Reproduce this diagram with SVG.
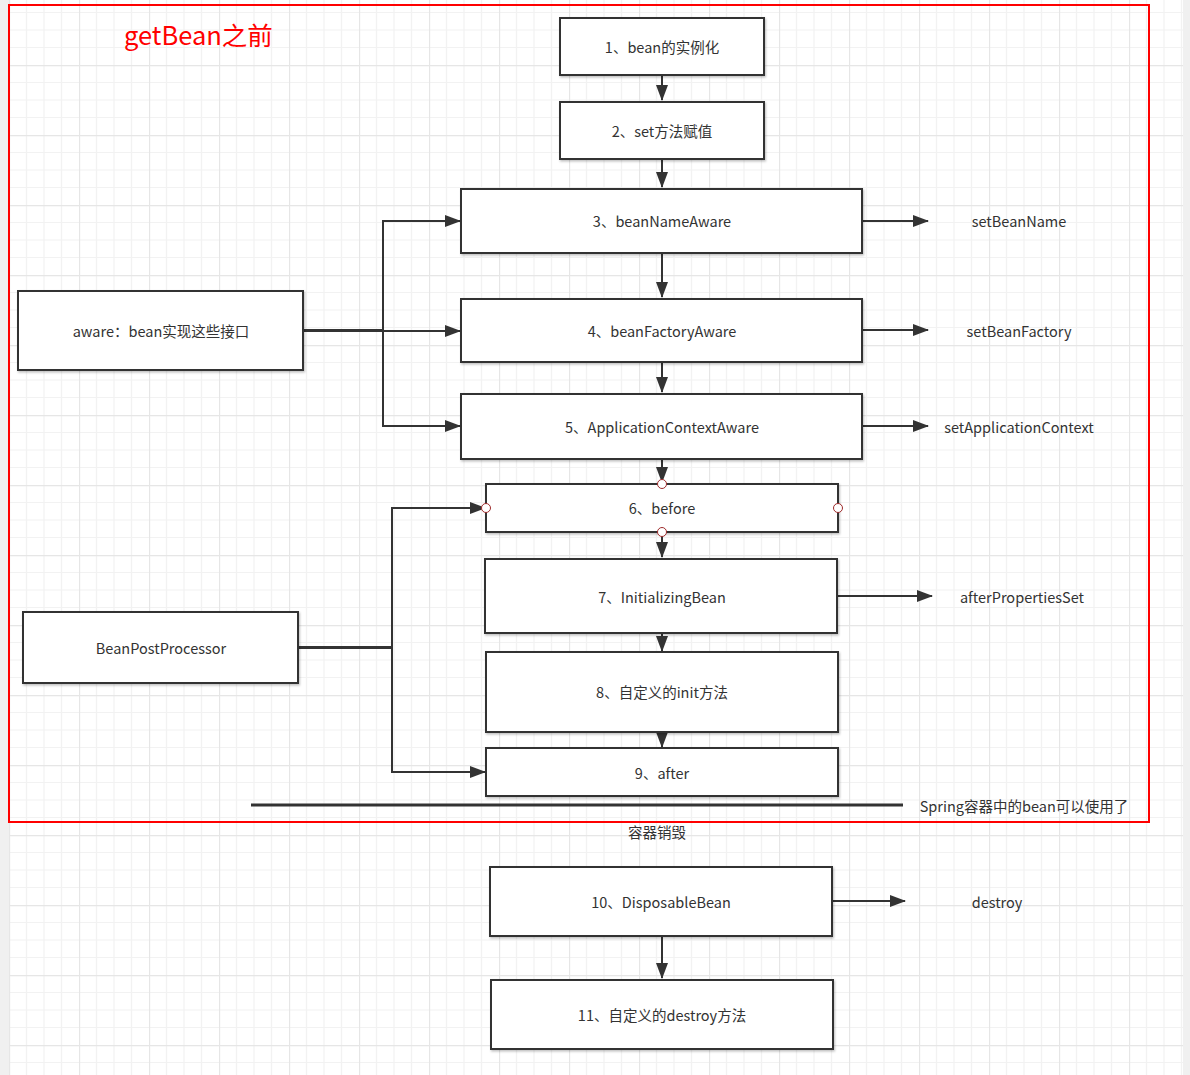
<svg xmlns="http://www.w3.org/2000/svg" width="1190" height="1075" viewBox="0 0 1190 1075">
<defs>
<pattern id="grid" x="9" y="-5" width="70" height="70" patternUnits="userSpaceOnUse">
<rect width="70" height="70" fill="#ffffff"/>
<path d="M17.5 0V70M35 0V70M52.5 0V70M0 17.5H70M0 35H70M0 52.5H70" stroke="#f2f2f2" stroke-width="1.2" fill="none"/>
<path d="M0.5 0V70M0 0.5H70" stroke="#e6e6e6" stroke-width="1.3" fill="none"/>
</pattern>
<marker id="arr" viewBox="0 0 16 12" refX="15" refY="6" markerWidth="16" markerHeight="12" markerUnits="userSpaceOnUse" orient="auto">
<path d="M0 0L16 6L0 12Z" fill="#333"/>
</marker>
<filter id="sh" x="-5%" y="-5%" width="110%" height="115%">
<feDropShadow dx="1" dy="1.5" stdDeviation="0.8" flood-color="#000" flood-opacity="0.25"/>
</filter>
</defs>
<style>
.box{fill:#fff;stroke:#333;stroke-width:2;filter:url(#sh)}
.t{font-family:"Noto Sans CJK SC","Microsoft YaHei",sans-serif;font-size:14.5px;fill:#333;text-anchor:middle;dominant-baseline:central}
.c{stroke:#333;stroke-width:2;fill:none}
.pt{fill:#fff;stroke:#9e2a2a;stroke-width:1}
</style>
<rect width="1190" height="1075" fill="#f0f0f0"/>
<rect x="9" y="0" width="1174" height="1075" fill="url(#grid)"/>
<rect x="9" y="5" width="1140" height="817" fill="none" stroke="#ff0000" stroke-width="2"/>
<text x="124" y="45" style="font-family:'Noto Sans CJK SC','Microsoft YaHei',sans-serif;font-size:25.5px;fill:#ff0000">getBean之前</text>

<g id="connectors">
<path class="c" d="M662 75V100" marker-end="url(#arr)"/>
<path class="c" d="M662 159V187" marker-end="url(#arr)"/>
<path class="c" d="M662 253V297" marker-end="url(#arr)"/>
<path class="c" d="M662 362V392" marker-end="url(#arr)"/>
<path class="c" d="M662 459V482" marker-end="url(#arr)"/>
<path class="c" d="M662 532V557" marker-end="url(#arr)"/>
<path class="c" d="M662 633V651" marker-end="url(#arr)"/>
<path class="c" d="M662 732V747" marker-end="url(#arr)"/>
<path class="c" d="M662 936V978" marker-end="url(#arr)"/>
<path class="c" d="M304 330H383V221H460" marker-end="url(#arr)"/>
<path class="c" d="M304 331H460" marker-end="url(#arr)"/>
<path class="c" d="M304 330H383V426H460" marker-end="url(#arr)"/>
<path class="c" d="M299 647H392V508H485" marker-end="url(#arr)"/>
<path class="c" d="M299 648H392V772H485" marker-end="url(#arr)"/>
<path class="c" d="M863 221H928" marker-end="url(#arr)"/>
<path class="c" d="M863 330H928" marker-end="url(#arr)"/>
<path class="c" d="M863 426H928" marker-end="url(#arr)"/>
<path class="c" d="M838 596H932" marker-end="url(#arr)"/>
<path class="c" d="M833 901H905" marker-end="url(#arr)"/>
<path d="M251 805H903" stroke="#333" stroke-width="3"/>
</g>

<g id="n1"><rect class="box" x="560" y="18" width="204" height="57"/><text class="t" x="662" y="46">1、bean的实例化</text></g>
<g id="n2"><rect class="box" x="560" y="102" width="204" height="57"/><text class="t" x="662" y="130">2、set方法赋值</text></g>
<g id="n3"><rect class="box" x="461" y="189" width="401" height="64"/><text class="t" x="662" y="220">3、beanNameAware</text></g>
<g id="n4"><rect class="box" x="461" y="299" width="401" height="63"/><text class="t" x="662" y="330">4、beanFactoryAware</text></g>
<g id="n5"><rect class="box" x="461" y="394" width="401" height="65"/><text class="t" x="662" y="426">5、ApplicationContextAware</text></g>
<g id="n6"><rect class="box" x="486" y="484" width="352" height="48"/><text class="t" x="662" y="507">6、before</text>
<circle class="pt" cx="662" cy="484" r="4.5"/><circle class="pt" cx="486" cy="508" r="4.5"/><circle class="pt" cx="838" cy="508" r="4.5"/><circle class="pt" cx="662" cy="532" r="4.5"/></g>
<g id="n7"><rect class="box" x="485" y="559" width="352" height="74"/><text class="t" x="662" y="596">7、InitializingBean</text></g>
<g id="n8"><rect class="box" x="486" y="652" width="352" height="80"/><text class="t" x="662" y="691">8、自定义的init方法</text></g>
<g id="n9"><rect class="box" x="486" y="748" width="352" height="48"/><text class="t" x="662" y="772">9、after</text></g>
<g id="aware"><rect class="box" x="18" y="291" width="285" height="79"/><text class="t" x="161" y="330">aware：bean实现这些接口</text></g>
<g id="bpp"><rect class="box" x="23" y="612" width="275" height="71"/><text class="t" x="161" y="647">BeanPostProcessor</text></g>
<g id="n10"><rect class="box" x="490" y="867" width="342" height="69"/><text class="t" x="661" y="901">10、DisposableBean</text></g>
<g id="n11"><rect class="box" x="491" y="980" width="342" height="69"/><text class="t" x="662" y="1014">11、自定义的destroy方法</text></g>

<g id="labels">
<text class="t" x="1019" y="220">setBeanName</text>
<text class="t" x="1019" y="330">setBeanFactory</text>
<text class="t" x="1019" y="426">setApplicationContext</text>
<text class="t" x="1022" y="596">afterPropertiesSet</text>
<text class="t" x="997" y="901">destroy</text>
<text class="t" x="1024" y="805">Spring容器中的bean可以使用了</text>
<text class="t" x="657" y="831">容器销毁</text>
</g>
</svg>
